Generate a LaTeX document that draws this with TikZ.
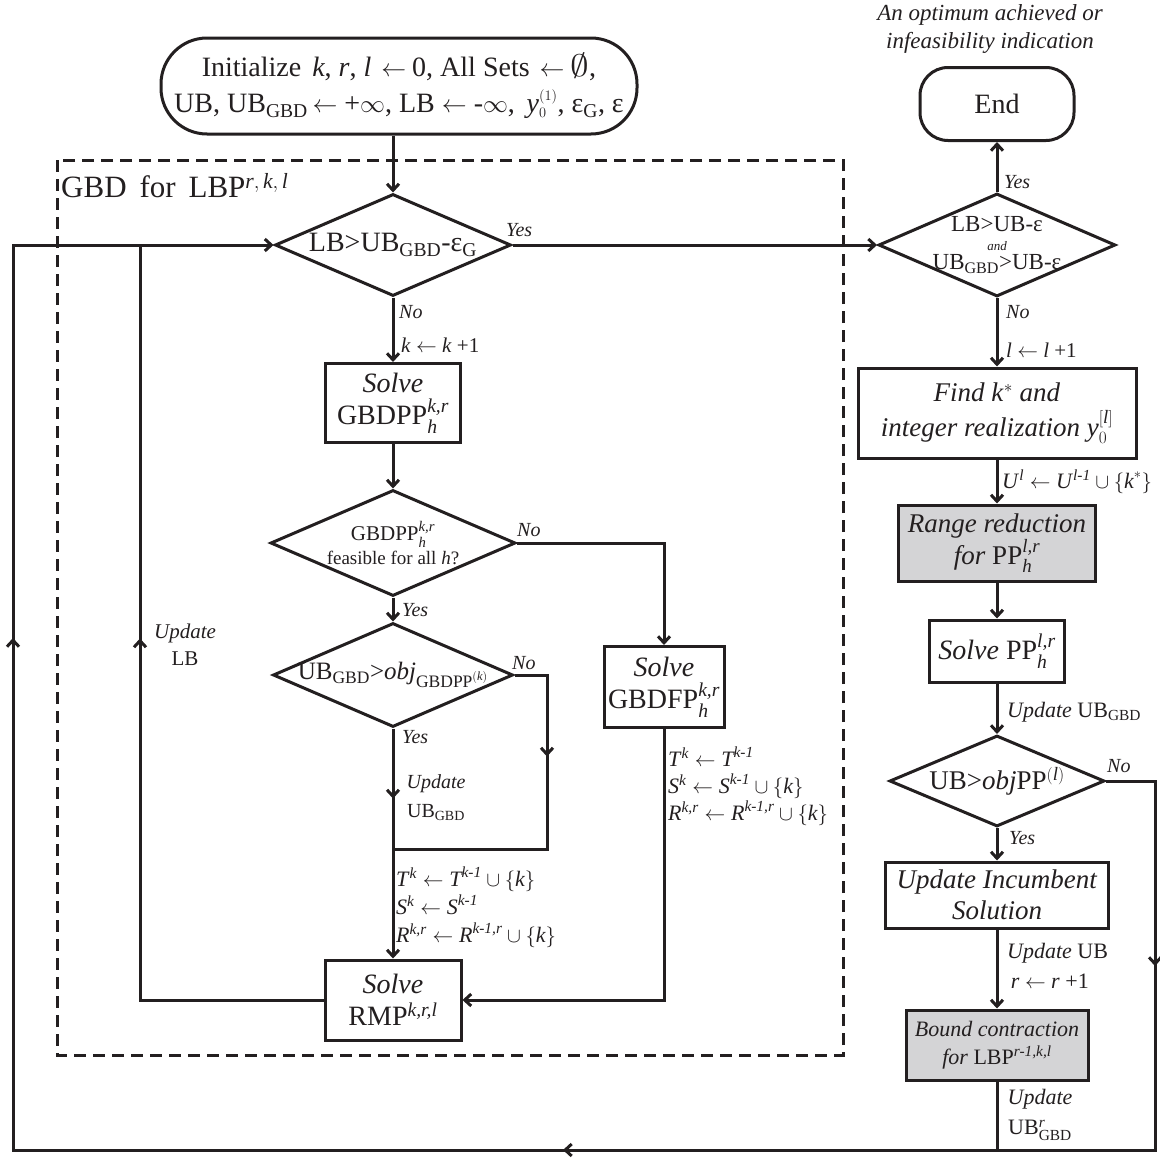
\documentclass[tikz,border=0pt]{standalone}
\usepackage{amsmath}
\usepackage{fontspec}
\setmainfont{Liberation Serif}
\usetikzlibrary{arrows.meta,shapes.geometric,decorations.markings}

\definecolor{ink}{HTML}{231F20}
\definecolor{shade}{HTML}{D4D4D6}
\newcommand{\fsz}[2]{\fontsize{#1pt}{#2pt}\selectfont}
\newcommand{\gbd}{\textsubscript{GBD}}
\newcommand{\larr}{\hspace{10pt}$\leftarrow$\hspace{6pt}}
\newcommand{\noset}{\scalebox{1.5}[1.25]{$\emptyset$}}

\tikzset{
  barb/.tip={Straight Barb[length=6.5pt,width=12pt]},
  ln/.style={draw=ink, line width=3pt, line join=miter},
  arr/.style={ln, -{barb}},
  midarr/.style={postaction=decorate, decoration={markings,
      mark=at position #1 with {\arrow{barb}}}},
  proc/.style={ln, rectangle, fill=white, inner sep=1pt, align=center, text=ink, font=\fsz{28}{32}},
  greybox/.style={proc, fill=shade},
  term/.style={ln, rectangle, fill=white, inner sep=1pt, align=center, text=ink},
  dec/.style={ln, diamond, fill=white, inner sep=0pt},
  lbl/.style={inner sep=1pt, text=ink, font=\itshape\fsz{20}{24}},
  note/.style={inner sep=1pt, text=ink, align=left, font=\fsz{22}{28}},
  every label/.style={text=ink, inner sep=0pt, align=center}
}

\begin{document}
\begin{tikzpicture}[x=1pt,y=-1pt]
\useasboundingbox (0,0) rectangle (1160,1159);

% frame of the GBD loop
\draw[draw=ink, line width=3pt, dash pattern=on 12pt off 7pt] (57,160) rectangle (843,1055);
\node[anchor=west, inner sep=1pt, text=ink, font=\fsz{31}{34}] (gbdtitle) at (60,186)
  {GBD\, for\, LBP$^{\textit{r},\,\textit{k},\,\textit{l}}$};

% ---- left column: GBD for the lower bounding problem
\node[term, minimum width=476pt, minimum height=96pt, rounded corners=46pt, font=\fsz{28}{36}] (start) at (399,86)
  {Initialize\hspace{4pt} \textit{k}, \textit{r}, \textit{l}\larr0, All Sets\larr\noset,\\
   UB, UB\gbd\,$\leftarrow$ +$\infty$, LB $\leftarrow$ -$\infty$,\, \textit{y}$_{\scriptscriptstyle 0}^{\scriptscriptstyle (1)}$, ε\textsubscript{G}, ε};

\node[dec, minimum width=236pt, minimum height=102pt,
  label={[font=\fsz{28}{32}]center:{LB>UB\gbd-ε\textsubscript{G}}}] (d1) at (393,245) {};

\node[proc, minimum width=135pt, minimum height=79pt] (gpp) at (393,403)
  {\textit{Solve}\\GBDPP$_{\textit{h}}^{\textit{k,r}}$};

\node[dec, minimum width=245pt, minimum height=106pt,
  label={[font=\fsz{19}{24}]center:{{\fsz{21}{24}GBDPP$_{\textit{h}}^{\textit{k,r}}$}\\feasible for all \textit{h}?}}] (d2) at (393,543) {};

\node[dec, minimum width=240pt, minimum height=104pt,
  label={[font=\fsz{25}{30}]center:{UB\gbd>\textit{obj}$_{\text{GBDPP}^{(\textit{k})}}$}}] (d3) at (393,675) {};

\node[proc, minimum width=120pt, minimum height=81pt] (gfp) at (664,687)
  {\textit{Solve}\\GBDFP$_{\textit{h}}^{\textit{k,r}}$};

\node[proc, minimum width=136pt, minimum height=80pt] (rmp) at (393,1000)
  {\textit{Solve}\\RMP$^{\textit{k,r,l}}$};

% ---- right column: upper bounding and termination
\node[inner sep=1pt, text=ink, align=center, font=\itshape\fsz{23}{28}] (endnote) at (990,29)
  {An optimum achieved or\\infeasibility indication};
\node[term, minimum width=154pt, minimum height=73pt, rounded corners=28pt, font=\fsz{28}{32}] (end) at (997,104) {End};

\node[dec, minimum width=237pt, minimum height=103pt,
  label={[font=\fsz{23}{19}]center:{LB>UB-ε\\{\fsz{13}{14}\itshape and}\\UB\gbd>UB-ε}}] (dr) at (997,245) {};

\node[proc, minimum width=278pt, minimum height=90pt, font=\fsz{27}{35}] (find) at (997,413)
  {\textit{Find k}$^*$\textit{ and}\\\textit{integer realization y}$_0^{[\textit{l}]}$};

\node[greybox, minimum width=197pt, minimum height=76pt, font=\fsz{27}{32}] (range) at (997,543)
  {\textit{Range reduction}\\\textit{for} PP$_{\textit{h}}^{\textit{l,r}}$};

\node[proc, minimum width=135pt, minimum height=62pt] (spp) at (997,651)
  {\textit{Solve} PP$_{\textit{h}}^{\textit{l,r}}$};

\node[dec, minimum width=215pt, minimum height=91pt,
  label={[font=\fsz{27}{30}]center:{UB>\textit{obj}PP$^{(\textit{l})}$}}] (d4) at (997,781) {};

\node[proc, minimum width=223pt, minimum height=66pt, font=\fsz{27}{31}] (inc) at (997,895)
  {\textit{Update Incumbent}\\\textit{Solution}};

\node[greybox, minimum width=182pt, minimum height=70pt, font=\fsz{22}{28}] (bnd) at (997,1045)
  {\textit{Bound contraction}\\\textit{for} LBP$^{\textit{r-1,k,l}}$};

% ---- connector junctions
\coordinate (j1) at (393,849);
\coordinate (j2) at (547,849);
\coordinate (lbj) at (140,245);
\coordinate (rp) at (1155,1150);
\coordinate (lp) at (13,1150);

% ---- connectors, left column
\draw[arr] (start.south -| d1.north) -- (d1.north);
\draw[arr] (d1.south) -- (gpp.north);
\draw[arr] (gpp.south) -- (d2.north);
\draw[arr] (d2.south) -- (d3.north);
\draw[arr] (d2.east) -| (gfp.north);
\draw[ln, midarr=70pt] (d3.south) -- (j1);
\draw[ln, midarr=114pt] (d3.east) -| (j2) -- (j1);
\draw[arr] (j1) -- (rmp.north);
\draw[arr] (gfp.south) |- (rmp.east);
\draw[ln, midarr=545pt] (rmp.west) -| (lbj);
\draw[arr] (d1.east) -- (dr.west);

% ---- connectors, right column
\draw[arr] (dr.north) -- (end.south);
\draw[arr] (dr.south) -- (find.north);
\draw[arr] (find.south) -- (range.north);
\draw[arr] (range.south) -- (spp.north);
\draw[arr] (spp.south) -- (d4.north);
\draw[arr] (d4.south) -- (inc.north);
\draw[arr] (inc.south) -- (bnd.north);
\draw[ln] (bnd.south) -- (bnd.south |- lp);

% ---- outer return loop
\draw[arr, postaction=decorate, decoration={markings,
    mark=at position 234pt with {\arrow{barb}},
    mark=at position 1010pt with {\arrow{barb}},
    mark=at position 2072pt with {\arrow{barb}}}]
  (d4.east) -| (rp) -- (lp) |- (d1.west);

% ---- branch labels
\node[lbl, anchor=west] (y1) at (505,230) {Yes};
\node[lbl, anchor=west] (n1) at (398,312) {No};
\node[lbl, anchor=west, font=\fsz{21}{24}] (kinc) at (400,345) {\textit{k} $\leftarrow$ \textit{k} +1};
\node[lbl, anchor=west] (n2) at (516,530) {No};
\node[lbl, anchor=west] (y2) at (401,610) {Yes};
\node[lbl, anchor=west] (n3) at (511,663) {No};
\node[lbl, anchor=west] (y3) at (401,737) {Yes};
\node[lbl, align=center, font=\fsz{20}{29}] (ubg) at (436,798) {\textit{Update}\\UB\gbd};
\node[note, anchor=west] (setsA) at (395,907)
  {\textit{T}$^{\textit{k}}\leftarrow\textit{T}^{\textit{k-1}}\cup\{\textit{k}\}$\\
   \textit{S}$^{\textit{k}}\leftarrow\textit{S}^{\textit{k-1}}$\\
   \textit{R}$^{\textit{k,r}}\leftarrow\textit{R}^{\textit{k-1,r}}\cup\{\textit{k}\}$};
\node[note, anchor=west, font=\fsz{22}{27}] (setsB) at (667,786)
  {\textit{T}$^{\textit{k}}\leftarrow\textit{T}^{\textit{k-1}}$\\
   \textit{S}$^{\textit{k}}\leftarrow\textit{S}^{\textit{k-1}}\cup\{\textit{k}\}$\\
   \textit{R}$^{\textit{k,r}}\leftarrow\textit{R}^{\textit{k-1,r}}\cup\{\textit{k}\}$};
\node[lbl, align=center, font=\fsz{21}{27}] (ulb) at (185,645) {\textit{Update}\\LB};

\node[lbl, anchor=west] (y4) at (1003,182) {Yes};
\node[lbl, anchor=west] (n4) at (1005,312) {No};
\node[lbl, anchor=west, font=\fsz{21}{24}] (linc) at (1005,350) {\textit{l} $\leftarrow$ \textit{l} +1};
\node[note, anchor=west, font=\fsz{22}{26}] (uset) at (1001,482)
  {\textit{U}$^{\textit{l}}\leftarrow$ \textit{U}$^{\textit{l-1}}\cup\{\textit{k}^*\}$};
\node[note, anchor=west, font=\fsz{22}{26}] (upg) at (1006,712) {\textit{Update} UB\gbd};
\node[lbl, anchor=west] (n5) at (1106,766) {No};
\node[lbl, anchor=west] (y5) at (1008,838) {Yes};
\node[note, anchor=west, align=left, font=\fsz{22}{30}] (upub) at (1006,966)
  {\textit{Update} UB\\\,\textit{r} $\leftarrow$ \textit{r} +1};
\node[note, align=center, font=\fsz{22}{30}] (upr) at (1040,1115)
  {\textit{Update}\\UB$^{\textit{r}}_{\text{GBD}}$};
\end{tikzpicture}
\end{document}
